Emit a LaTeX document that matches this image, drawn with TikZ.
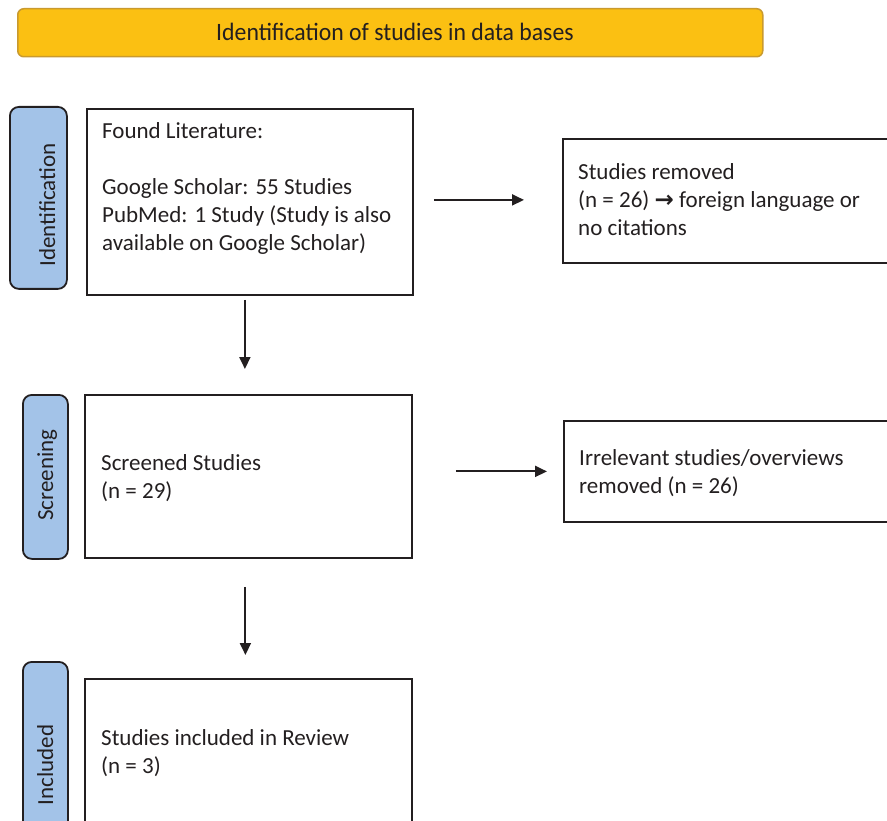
\documentclass[tikz,border=0pt]{standalone}
\usepackage{fontspec}
\setmainfont{Carlito}
\newfontfamily\condf[FakeStretch=0.95]{Carlito}
\newfontfamily\symf{DejaVu Sans}
\usetikzlibrary{arrows.meta}
\definecolor{txt}{HTML}{231F20}
\definecolor{edge}{HTML}{231F20}
\definecolor{sideblue}{HTML}{A3C3E8}
\definecolor{titlefill}{HTML}{FBC012}
\definecolor{titleedge}{HTML}{C99A2E}
\newcommand\rowsof[1]{\begin{tabular}[t]{@{}l@{}}#1\end{tabular}}
\begin{document}
\begin{tikzpicture}[x=1pt,y=-1pt,
  box/.style={draw=edge,line width=1.8pt,inner sep=0,anchor=north west},
  side/.style={draw=edge,line width=1.8pt,fill=sideblue,rounded corners=9pt,anchor=north west,inner sep=0},
  sidetext/.style={rotate=90,anchor=base,inner sep=0,text=txt,font=\fontsize{23}{28}\selectfont},
  body/.style={anchor=base west,inner sep=0,text=txt,font=\fontsize{23}{28}\selectfont},
  arr/.style={-{Triangle[length=12pt,width=11pt]},line width=1.9pt,draw=edge}
]
\useasboundingbox (0,0) rectangle (887,821);

% title bar
\node[draw=titleedge,line width=1.5pt,fill=titlefill,rounded corners=6pt,anchor=north west,
      minimum width=745pt,minimum height=48pt,inner sep=0] (title) at (17,8) {};
\node[anchor=base,inner sep=0,text=txt,font=\condf\fontsize{25}{30}\selectfont] (titletext)
      at (395,41) {Identification of studies in data bases};

% side labels
\node[side,minimum width=57pt,minimum height=182pt] (side1) at (9,106) {};
\node[sidetext] (side1text) at (55,205) {Identification};
\node[side,minimum width=45pt,minimum height=164pt] (side2) at (22,394) {};
\node[sidetext] (side2text) at (53,475) {Screening};
\node[side,minimum width=45pt,minimum height=180pt] (side3) at (22,661) {};
\node[sidetext] (side3text) at (53,765) {Included};

% boxes
\node[box,minimum width=326pt,minimum height=186pt] (box1) at (86,108) {};
\node[body] (box1text) at (102,139) {\rowsof{Found Literature:\\ \\Google Scholar: 55 Studies\\PubMed: 1 Study (Study is also\\available on Google Scholar)}};

\node[box,minimum width=330pt,minimum height=124pt] (box2) at (562,138) {};
\node[body] (box2text) at (578,180) {\rowsof{Studies removed\\(n = 26) {\symf\bfseries\fontsize{23}{28}\selectfont→} foreign language or\\no citations}};

\node[box,minimum width=327pt,minimum height=163pt] (box3) at (84,394) {};
\node[body] (box3text) at (101,470) {\rowsof{Screened Studies\\(n = 29)}};

\node[box,minimum width=330pt,minimum height=101pt] (box4) at (563,420) {};
\node[body] (box4text) at (579,465) {\rowsof{Irrelevant studies/overviews\\removed (n = 26)}};

\node[box,minimum width=327pt,minimum height=170pt] (box5) at (84,678) {};
\node[body] (box5text) at (101,745) {\rowsof{Studies included in Review\\(n = 3)}};

% connectors
\draw[arr,shorten <=20pt,shorten >=38pt] ([yshift=2pt]box1.east) -- ([yshift=2pt]box1.east -| box2.west);
\draw[arr,shorten <=4pt,shorten >=25pt] ([xshift=-5pt]box1.south) -- ([xshift=-5pt]box1.south |- box3.north);
\draw[arr,shorten <=43pt,shorten >=16pt] ([yshift=5pt]box3.east) -- ([yshift=5pt]box3.east -| box4.west);
\draw[arr,shorten <=28pt,shorten >=23pt] ([xshift=-3pt]box3.south) -- ([xshift=-3pt]box3.south |- box5.north);
\end{tikzpicture}
\end{document}
